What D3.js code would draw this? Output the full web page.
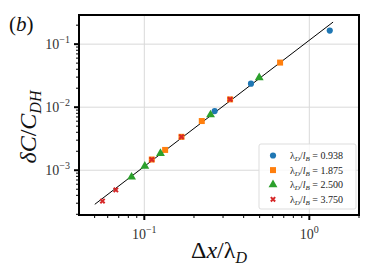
<!DOCTYPE html>
<html>
<head>
<meta charset="utf-8">
<script src="https://cdn.jsdelivr.net/npm/d3@7"></script>
<style>
  body { margin: 0; background: #fff; }
</style>
</head>
<body>
<svg id="chart"></svg>
<script>
const width = 374, height = 280;

// data (dx/lambda_D, dC/C_DH)
const series = [
  { name: "0.938", shape: "circle", color: "#1f77b4",
    pts: [[0.267, 0.00869], [0.443, 0.0236], [1.33, 0.164]] },
  { name: "1.875", shape: "square", color: "#ff7f0e",
    pts: [[0.111, 0.00148], [0.1337, 0.0021], [0.168, 0.00339], [0.223, 0.00603], [0.331, 0.0133], [0.665, 0.051]] },
  { name: "2.500", shape: "triangle", color: "#2ca02c",
    pts: [[0.0837, 0.00078], [0.1007, 0.00116], [0.1253, 0.00185], [0.252, 0.00759], [0.497, 0.0294]] },
  { name: "3.750", shape: "cross", color: "#d62728",
    pts: [[0.0558, 0.000325], [0.0672, 0.000486], [0.111, 0.00148], [0.168, 0.00339], [0.331, 0.0133]] }
];
const fitLine = [[0.0501, 0.000288], [1.393, 0.224]];
const xMajor = [0.1, 1];
const yMajor = [0.001, 0.01, 0.1];
const xExp = ["\u22121", "0"];
const yExp = ["\u22123", "\u22122", "\u22121"];

const serif = "'Liberation Serif', 'DejaVu Serif', serif";
const margin = { top: 15, right: 15, bottom: 65, left: 79 };
const svg = d3.select("#chart").attr("width", width).attr("height", height)
  .attr("font-family", serif);

const x = d3.scaleLog().domain([0.0402, 2.0]).range([margin.left, width - margin.right]);
const y = d3.scaleLog().domain([1.95e-4, 0.29]).range([height - margin.bottom, margin.top]);

const plot = svg.append("g");

// grid
plot.selectAll(".gx").data(xMajor).enter().append("line")
  .attr("x1", d => x(d)).attr("x2", d => x(d))
  .attr("y1", y.range()[0]).attr("y2", y.range()[1])
  .attr("stroke", "#d9d9d9").attr("stroke-width", 1);
plot.selectAll(".gy").data(yMajor).enter().append("line")
  .attr("y1", d => y(d)).attr("y2", d => y(d))
  .attr("x1", x.range()[0]).attr("x2", x.range()[1])
  .attr("stroke", "#d9d9d9").attr("stroke-width", 1);

// fit line
plot.append("path")
  .datum(fitLine)
  .attr("d", d3.line().x(d => x(d[0])).y(d => y(d[1])))
  .attr("stroke", "#000").attr("stroke-width", 1).attr("fill", "none");

const symbols = {
  circle: d3.symbol().type(d3.symbolCircle).size(30),
  square: d3.symbol().type(d3.symbolSquare).size(36),
  triangle: d3.symbol().type(d3.symbolTriangle).size(34)
};

function marker(g, s) {
  if (s.shape === "cross") {
    g.attr("stroke", s.color).attr("stroke-width", 2).attr("fill", "none")
      .attr("d", d3.symbol().type(d3.symbolX).size(14));
  } else {
    g.attr("fill", s.color).attr("d", symbols[s.shape]);
  }
}

series.forEach(s => {
  plot.selectAll(null).data(s.pts).enter().append("path")
    .attr("transform", d => `translate(${x(d[0])},${y(d[1])})`)
    .call(g => marker(g, s));
});

// frame
const x0 = x.range()[0], x1 = x.range()[1], y0 = y.range()[0], y1 = y.range()[1];
svg.append("rect").attr("x", x0).attr("y", y1).attr("width", x1 - x0).attr("height", y0 - y1)
  .attr("fill", "none").attr("stroke", "#000").attr("stroke-width", 2);

// ticks
const isMajor = v => Math.abs(Math.log10(v) - Math.round(Math.log10(v))) < 1e-6;
const xt = x.ticks().filter(v => !isMajor(v));
const yt = y.ticks().filter(v => !isMajor(v));
svg.selectAll(".xm").data(xt).enter().append("line")
  .attr("x1", d => x(d)).attr("x2", d => x(d)).attr("y1", y0).attr("y2", y0 + 3)
  .attr("stroke", "#000").attr("stroke-width", 1);
svg.selectAll(".ym").data(yt).enter().append("line")
  .attr("y1", d => y(d)).attr("y2", d => y(d)).attr("x1", x0).attr("x2", x0 - 3)
  .attr("stroke", "#000").attr("stroke-width", 1);
svg.selectAll(".xM").data(xMajor).enter().append("line")
  .attr("x1", d => x(d)).attr("x2", d => x(d)).attr("y1", y0).attr("y2", y0 + 5)
  .attr("stroke", "#000").attr("stroke-width", 2);
svg.selectAll(".yM").data(yMajor).enter().append("line")
  .attr("y1", d => y(d)).attr("y2", d => y(d)).attr("x1", x0).attr("x2", x0 - 5)
  .attr("stroke", "#000").attr("stroke-width", 2);

// tick labels
xMajor.forEach((v, i) => {
  const t = svg.append("text").attr("x", x(v)).attr("y", y0 + 24)
    .attr("text-anchor", "middle").attr("fill", "#333").attr("font-size", 14);
  t.append("tspan").text("10");
  t.append("tspan").attr("dy", -6).attr("font-size", 10).text(xExp[i]);
});
yMajor.forEach((v, i) => {
  const t = svg.append("text").attr("x", x0 - 9).attr("y", y(v) + 5)
    .attr("text-anchor", "end").attr("fill", "#333").attr("font-size", 14);
  t.append("tspan").text("10");
  t.append("tspan").attr("dy", -6).attr("font-size", 10).text(yExp[i]);
});

// axis labels
const xl = svg.append("text").attr("x", (x0 + x1) / 2).attr("y", 258)
  .attr("text-anchor", "middle").attr("font-size", 24).attr("fill", "#111");
xl.append("tspan").text("\u0394");
xl.append("tspan").attr("font-style", "italic").text("x");
xl.append("tspan").text("/\u03bb");
xl.append("tspan").attr("font-style", "italic").attr("font-size", 16).attr("dy", 5).text("D");

const yl = svg.append("text").attr("transform", `translate(36,${(y0 + y1) / 2 + 12}) rotate(-90)`)
  .attr("text-anchor", "middle").attr("font-size", 24).attr("fill", "#111");
yl.append("tspan").attr("font-style", "italic").text("\u03b4C");
yl.append("tspan").text("/");
yl.append("tspan").attr("font-style", "italic").text("C");
yl.append("tspan").attr("font-style", "italic").attr("font-size", 16).attr("dy", 5).text("DH");

const lab = svg.append("text").attr("x", 9).attr("y", 31).attr("font-size", 21).attr("fill", "#111");
lab.append("tspan").text("(");
lab.append("tspan").attr("font-style", "italic").text("b");
lab.append("tspan").text(")");

// legend
const lg = svg.append("g").attr("transform", "translate(259,144)");
lg.append("rect").attr("width", 97).attr("height", 65).attr("rx", 2)
  .attr("fill", "#fff").attr("fill-opacity", 0.8).attr("stroke", "#ddd").attr("stroke-width", 1);
series.forEach((s, i) => {
  const row = lg.append("g").attr("transform", `translate(0,${11.5 + i * 14.6})`);
  row.append("path").attr("transform", "translate(14,0)").call(g => marker(g, s));
  const t = row.append("text").attr("x", 31).attr("y", 3.5).attr("font-size", 10).attr("fill", "#222");
  t.append("tspan").text("\u03bb");
  t.append("tspan").attr("font-style", "italic").attr("font-size", 7).attr("dy", 2).text("D");
  t.append("tspan").attr("dy", -2).text("/");
  t.append("tspan").attr("font-style", "italic").text("l");
  t.append("tspan").attr("font-style", "italic").attr("font-size", 7).attr("dy", 2).text("B");
  t.append("tspan").attr("dy", -2).text(" = " + s.name);
});
</script>
</body>
</html>
